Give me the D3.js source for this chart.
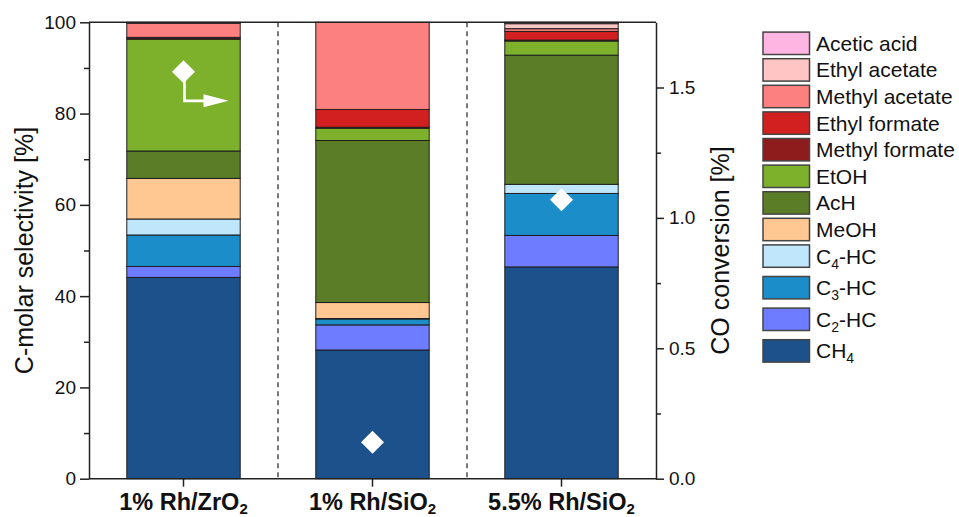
<!DOCTYPE html>
<html>
<head>
<meta charset="utf-8">
<script src="https://cdn.jsdelivr.net/npm/d3@7"></script>
<style>
  html, body { margin: 0; padding: 0; background: #fff; }
  svg { display: block; font-family: "Liberation Sans", Arial, sans-serif; }
</style>
</head>
<body>
<svg id="chart" width="959" height="517"></svg>
<script>
// ---- data ----
const categories = ["1% Rh/ZrO2", "1% Rh/SiO2", "5.5% Rh/SiO2"];
const ch4   = [44.1, 28.2, 46.4];
const c2hc  = [2.4, 5.5, 6.9];
const c3hc  = [6.9, 1.3, 9.2];
const c4hc  = [3.5, 0.1, 2.0];
const meoh  = [8.9, 3.5, 0.0];
const ach   = [6.0, 35.5, 28.3];
const etoh  = [24.5, 2.7, 3.1];
const methylFormate = [0.3, 0.2, 0.2];
const ethylFormate  = [0.1, 3.9, 1.9];
const methylAcetate = [3.1, 19.1, 0.6];
const ethylAcetate  = [0.1, 0.0, 1.1];
const aceticAcid    = [0.1, 0.0, 0.3];
const coConversion  = [1.56, 0.14, 1.07];
const leftTicks  = [0, 20, 40, 60, 80, 100];
const rightTicks = [0, 0.5, 1.0, 1.5];

// series (stack order bottom -> top); label parts: [main, subscript, rest]
const seriesDefs = [
  {key: "CH4",  label: ["CH", "4", ""],     values: ch4,   color: "#1c518b"},
  {key: "C2",   label: ["C", "2", "-HC"],   values: c2hc,  color: "#6e7dff"},
  {key: "C3",   label: ["C", "3", "-HC"],   values: c3hc,  color: "#1b8dc8"},
  {key: "C4",   label: ["C", "4", "-HC"],   values: c4hc,  color: "#c0e6fb"},
  {key: "MeOH", label: ["MeOH", "", ""],    values: meoh,  color: "#ffc892"},
  {key: "AcH",  label: ["AcH", "", ""],     values: ach,   color: "#5c7d28"},
  {key: "EtOH", label: ["EtOH", "", ""],    values: etoh,  color: "#7db12c"},
  {key: "MF",   label: ["Methyl formate", "", ""], values: methylFormate, color: "#8f1c1c"},
  {key: "EF",   label: ["Ethyl formate", "", ""],  values: ethylFormate,  color: "#d22020"},
  {key: "MA",   label: ["Methyl acetate", "", ""], values: methylAcetate, color: "#fd8080"},
  {key: "EA",   label: ["Ethyl acetate", "", ""],  values: ethylAcetate,  color: "#ffc4c4"},
  {key: "AA",   label: ["Acetic acid", "", ""],    values: aceticAcid,    color: "#ffb5e1"}
];

// ---- layout ----
const svg = d3.select("#chart");
const margin = {left: 89, right: 303, top: 22.3, bottom: 38.3};
const W = 959, H = 517;
const x0 = margin.left, x1 = W - margin.right, y0 = H - margin.bottom, y1 = margin.top;

const x = d3.scaleBand().domain(categories).range([x0, x1]).paddingInner(0.4).paddingOuter(0.2);
const y = d3.scaleLinear().domain([0, 100]).range([y0, y1]);
const yR = d3.scaleLinear().domain([0, 1.75]).range([y0, y1]);

const table = categories.map((c, i) => {
  const row = {cat: c};
  seriesDefs.forEach(s => row[s.key] = s.values[i]);
  return row;
});
const stacked = d3.stack().keys(seriesDefs.map(s => s.key))(table);

// bars
const gBars = svg.append("g");
stacked.forEach((layer, li) => {
  gBars.selectAll(null).data(layer).enter().append("rect")
    .attr("x", d => x(d.data.cat))
    .attr("width", x.bandwidth())
    .attr("y", d => y(d[1]))
    .attr("height", d => Math.max(0, y(d[0]) - y(d[1])))
    .attr("fill", seriesDefs[li].color)
    .attr("stroke", "#1e1e1e")
    .attr("stroke-width", 1);
});

// dashed separators
const step = x.step();
const seps = categories.slice(0, -1).map(c => x(c) + x.bandwidth() + step * x.paddingInner() / 2);
svg.selectAll(null).data(seps).enter().append("line")
  .attr("x1", d => d).attr("x2", d => d)
  .attr("y1", y1).attr("y2", y0)
  .attr("stroke", "#222").attr("stroke-width", 1.2)
  .attr("stroke-dasharray", "5,4");

// axes
const axisColor = "#222";
function styleAxis(g) {
  g.selectAll("path, line").attr("stroke", axisColor).attr("stroke-width", 1.5);
  g.selectAll("text").attr("fill", "#111").style("font-family", '"Liberation Sans", Arial, sans-serif');
}
// left minor
svg.append("g").attr("transform", `translate(${x0},0)`)
  .call(d3.axisLeft(y).tickValues(d3.range(10, 100, 20)).tickSize(5).tickFormat("").tickSizeOuter(0))
  .call(styleAxis).select(".domain").remove();
const gL = svg.append("g").attr("transform", `translate(${x0},0)`)
  .call(d3.axisLeft(y).tickValues(leftTicks).tickSize(9).tickPadding(4).tickSizeOuter(0))
  .call(styleAxis);
gL.selectAll("text").attr("font-size", 19);
// right minor
svg.append("g").attr("transform", `translate(${x1},0)`)
  .call(d3.axisRight(yR).tickValues([0.25, 0.75, 1.25]).tickSize(5).tickFormat("").tickSizeOuter(0))
  .call(styleAxis).select(".domain").remove();
const gR = svg.append("g").attr("transform", `translate(${x1},0)`)
  .call(d3.axisRight(yR).tickValues(rightTicks).tickSize(8).tickPadding(5).tickFormat(d3.format(".1f")).tickSizeOuter(0))
  .call(styleAxis);
gR.selectAll("text").attr("font-size", 19);
// bottom
const gB = svg.append("g").attr("transform", `translate(0,${y0})`)
  .call(d3.axisBottom(x).tickSize(8).tickSizeOuter(0).tickFormat(""))
  .call(styleAxis);
gB.select(".domain").attr("d", `M${x0},0H${x1}`);
// top frame
svg.append("line").attr("x1", x0).attr("x2", x1).attr("y1", y1).attr("y2", y1)
  .attr("stroke", axisColor).attr("stroke-width", 1.5);

// category labels with subscript
categories.forEach(c => {
  const t = svg.append("text")
    .attr("x", x(c) + x.bandwidth() / 2)
    .attr("y", 510)
    .attr("text-anchor", "middle")
    .attr("font-size", 23.5)
    .attr("font-weight", "bold")
    .attr("fill", "#111");
  t.append("tspan").text(c.slice(0, -1));
  t.append("tspan").text(c.slice(-1)).attr("font-size", 15).attr("dy", 3.5);
});

// axis titles
svg.append("text")
  .attr("transform", `translate(33,${(y0 + y1) / 2}) rotate(-90)`)
  .attr("text-anchor", "middle")
  .attr("font-size", 25)
  .attr("fill", "#111")
  .text("C-molar selectivity [%]");
svg.append("text")
  .attr("transform", `translate(729,${(y0 + y1) / 2}) rotate(-90)`)
  .attr("text-anchor", "middle")
  .attr("font-size", 25)
  .attr("fill", "#111")
  .text("CO conversion [%]");

// CO conversion diamonds
const pts = categories.map((c, i) => ({cx: x(c) + x.bandwidth() / 2, cy: yR(coConversion[i])}));
svg.selectAll(null).data(pts).enter().append("path")
  .attr("d", "M0,-11.5L11.5,0L0,11.5L-11.5,0Z")
  .attr("transform", d => `translate(${d.cx},${d.cy})`)
  .attr("fill", "#fff");

// arrow from first diamond pointing to right axis
const p0 = pts[0];
svg.append("path")
  .attr("d", `M${p0.cx + 1},${p0.cy + 8}V${p0.cy + 29}H${p0.cx + 22}`)
  .attr("fill", "none").attr("stroke", "#fff").attr("stroke-width", 2.6);
svg.append("path")
  .attr("d", `M${p0.cx + 20},${p0.cy + 22.5}L${p0.cx + 45},${p0.cy + 29}L${p0.cx + 20},${p0.cy + 35.5}Z`)
  .attr("fill", "#fff");

// legend
const legendItems = seriesDefs.slice().reverse();
const gLeg = svg.append("g");
let ly = 43.3;
legendItems.forEach((s, i) => {
  if (i > 0) {
    const prev = legendItems[i - 1];
    ly += 26.6 + (prev.label[1] ? 5 : 0);
  }
  gLeg.append("rect")
    .attr("x", 763).attr("y", ly - 11.2)
    .attr("width", 46.5).attr("height", 22.4)
    .attr("fill", s.color).attr("stroke", "#444").attr("stroke-width", 1.5);
  const t = gLeg.append("text")
    .attr("x", 816).attr("y", ly + 7.5)
    .attr("font-size", 21).attr("fill", "#111");
  t.append("tspan").text(s.label[0]);
  if (s.label[1]) {
    t.append("tspan").text(s.label[1]).attr("font-size", 14).attr("dy", 5);
    if (s.label[2]) t.append("tspan").text(s.label[2]).attr("dy", -5);
  }
});
</script>
</body>
</html>
